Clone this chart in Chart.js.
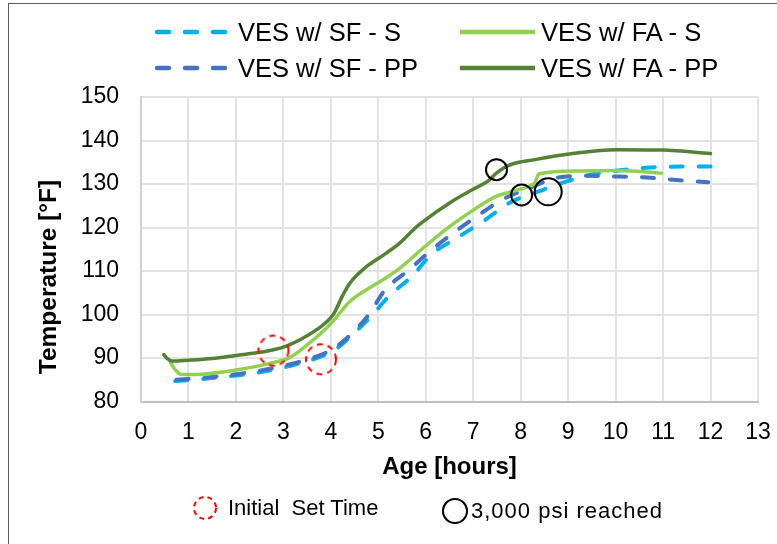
<!DOCTYPE html>
<html><head><meta charset="utf-8">
<script src="https://cdn.jsdelivr.net/npm/chart.js@4/dist/chart.umd.min.js"></script>
<style>
html,body{margin:0;padding:0;background:#fff;}
#wrap{position:relative;width:777px;height:544px;overflow:hidden;font-family:"Liberation Sans",Arial,sans-serif;background:#fff;}
#frame{position:absolute;left:8px;top:3px;width:900px;height:700px;border-left:1.5px solid #595959;border-top:1.5px solid #595959;}
#c{position:absolute;left:0;top:0;}
.lg{position:absolute;font-size:25.5px;color:#000;white-space:pre;line-height:26px;}
.ytitle{position:absolute;left:48px;top:277px;transform:translate(-50%,-50%) rotate(-90deg);font-weight:bold;font-size:24.5px;white-space:pre;color:#000;}
svg{position:absolute;left:0;top:0;}
</style></head>
<body>
<div id="wrap">
<div id="frame"></div>
<canvas id="c" width="777" height="544"></canvas>
<div class="ytitle">Temperature [°F]</div>
<svg width="777" height="544" id="lsvg"></svg>
<div id="legend"></div>
</div>
<script>
// ---- data ----
const seriesNames = ["VES w/ SF - S", "VES w/ SF - PP", "VES w/ FA - S", "VES w/ FA - PP"];
const sfS_hours = [0.72,1.0,1.5,2.1,2.7,3.25,3.85,4.1,4.4,4.85,5.23,5.72,6.1,6.7,7.26,7.75,8.38,8.94,9.5,10.13,10.73,11.36,12.0];
const sfS_temp  = [84.7,84.9,85.4,86.1,87.1,88.5,90.6,92.0,94.8,99.6,104.3,108.9,113.6,117.9,121.8,125.6,128.3,130.5,132.2,133.2,133.8,134.0,134.0];
const sfPP_hours = [0.75,1.0,1.55,2.1,2.75,3.3,3.87,4.1,4.4,4.82,5.13,5.65,6.14,6.63,7.12,7.61,8.17,8.8,9.43,10.06,10.66,11.29,11.95];
const sfPP_temp  = [85.0,85.2,85.7,86.4,87.6,89.0,91.1,92.5,95.2,100.3,105.5,110.3,115.0,119.1,122.9,126.4,129.0,131.5,131.9,131.7,131.5,130.9,130.4];
const faS_hours = [0.62,0.72,0.85,1.4,2.1,2.8,3.1,3.5,3.9,4.05,4.4,4.75,5.1,5.45,6.0,6.5,7.0,7.47,7.82,8.2,8.3,8.38,9.2,10.0,10.97];
const faS_temp  = [89.0,87.3,86.2,86.4,87.4,89.0,89.9,93.0,96.8,98.5,103.0,105.7,108.0,110.6,115.8,120.2,124.0,127.1,128.3,129.6,130.3,132.3,133.0,133.1,132.5];
const faPP_hours = [0.48,0.55,0.65,1.0,1.5,2.0,2.5,3.0,3.35,3.7,4.05,4.25,4.4,4.75,5.1,5.45,5.75,5.9,6.55,7.0,7.3,7.5,7.75,8.3,9.1,10.0,11.0,12.0];
const faPP_temp  = [90.8,89.9,89.3,89.5,89.9,90.6,91.3,92.5,94.2,96.5,100.0,104.4,107.2,111.0,113.6,116.4,119.6,121.0,126.0,128.8,130.6,132.6,134.3,135.6,137.0,137.9,137.8,137.0];
const markerNames = ["Initial  Set Time", "3,000 psi reached"];
const setTime_hours = [2.79, 3.79];
const setTime_temp  = [91.7, 89.7];
const psi_hours = [7.49, 8.02, 8.58];
const psi_temp  = [133.3, 127.5, 128.2];
const xTicks = [0,1,2,3,4,5,6,7,8,9,10,11,12,13];
const yTicks = [80,90,100,110,120,130,140,150];
const xTitle = "Age [hours]";

// ---- styles ----
const colors = ["#00B0F0", "#4472C4", "#92D050", "#548235"];
const dashes = [[12,16],[12,16],[],[]];
const FONT = "'Liberation Sans', Arial, sans-serif";

function pts(h, t){ return h.map((v,i)=>({x:v, y:t[i]})); }
function dashedCircle(r, color){
  const c = document.createElement('canvas');
  const s = Math.ceil(2*r + 6);
  c.width = s; c.height = s;
  const g = c.getContext('2d');
  g.strokeStyle = color; g.lineWidth = 2; g.setLineDash([6,5]);
  g.beginPath(); g.arc(s/2, s/2, r, 0, Math.PI*2); g.stroke();
  return c;
}
const redCircle = dashedCircle(15, "#FF0000");

const lineData = [pts(sfS_hours,sfS_temp), pts(sfPP_hours,sfPP_temp), pts(faS_hours,faS_temp), pts(faPP_hours,faPP_temp)];
const datasets = lineData.map((d,i)=>({
  label: seriesNames[i], data: d, showLine: true, borderColor: colors[i], backgroundColor: colors[i],
  borderWidth: i<2 ? 4 : 3.5, borderDash: dashes[i], borderCapStyle: 'round', borderJoinStyle:'round',
  pointRadius: 0, cubicInterpolationMode: 'monotone', order: 4 - i
}));
datasets.push({label: markerNames[0], data: pts(setTime_hours,setTime_temp), showLine:false,
  pointStyle: redCircle, pointRadius: 15, order: 0});
datasets.push({label: markerNames[1], data: pts(psi_hours,psi_temp), showLine:false,
  pointStyle: 'circle', pointRadius: [10.5,10.5,13.5], pointBorderColor:'#000', pointBackgroundColor:'rgba(0,0,0,0)',
  pointBorderWidth: 2, order: 0});

const gridColor = '#e3e3e3';
new Chart(document.getElementById('c'), {
  type: 'scatter',
  data: { datasets },
  options: {
    responsive: false, animation: false, devicePixelRatio: 1,
    layout: { padding: { top: 97, right: 19, left: 0, bottom: 0 } },
    plugins: { legend: { display: false }, tooltip: { enabled: false } },
    scales: {
      x: {
        type: 'linear', min: 0, max: 13,
        afterBuildTicks: s => { s.ticks = xTicks.map(v=>({value:v})); },
        ticks: { color: '#000', font: { family: FONT, size: 23 }, padding: 17, maxRotation: 0, autoSkip: false },
        grid: { color: gridColor, lineWidth: 2, drawTicks: false },
        border: { color: '#bfbfbf', width: 2 },
        title: { display: true, text: xTitle, color: '#000', font: { family: FONT, size: 24, weight: 'bold' }, padding: { top: 0, bottom: 62 } },
        afterFit: s => { s.height = 142.5; s.paddingLeft = 0; s.paddingRight = 0; }
      },
      y: {
        type: 'linear', min: 80, max: 150,
        afterBuildTicks: s => { s.ticks = yTicks.map(v=>({value:v})); },
        ticks: { color: '#000', font: { family: FONT, size: 23 }, padding: 22 },
        grid: { color: gridColor, lineWidth: 2, drawTicks: false },
        border: { color: '#d0d0d0', width: 2 },
        afterFit: s => { s.width = 141; s.paddingTop = 0; s.paddingBottom = 0; }
      }
    }
  }
});

// ---- legends (HTML/SVG) ----
const svg = document.getElementById('lsvg');
const NS = 'http://www.w3.org/2000/svg';
function line(x1,y,x2,color,dash,w){
  const l = document.createElementNS(NS,'line');
  l.setAttribute('x1',x1); l.setAttribute('x2',x2); l.setAttribute('y1',y); l.setAttribute('y2',y);
  l.setAttribute('stroke',color); l.setAttribute('stroke-width',w);
  if (dash.length) { l.setAttribute('stroke-dasharray',dash.join(' ')); l.setAttribute('stroke-linecap','round'); }
  svg.appendChild(l);
}
function circ(cx,cy,r,color,dash){
  const c = document.createElementNS(NS,'circle');
  c.setAttribute('cx',cx); c.setAttribute('cy',cy); c.setAttribute('r',r);
  c.setAttribute('fill','none'); c.setAttribute('stroke',color); c.setAttribute('stroke-width',2);
  if (dash) c.setAttribute('stroke-dasharray',dash);
  svg.appendChild(c);
}
function text(x,y,t,size,ls){
  const d = document.createElement('div'); d.className='lg'; d.textContent=t;
  d.style.left = x+'px'; d.style.top = (y - 13)+'px';
  if (size) d.style.fontSize = size+'px';
  if (ls) d.style.letterSpacing = ls+'px';
  document.getElementById('legend').appendChild(d);
}
const legPos = [[157,32],[157,68],[460,32],[460,68]];
legPos.forEach((p,i)=>{
  line(p[0], p[1], p[0]+75, colors[i], dashes[i].length ? [12,16] : [], 4.5);
  text(p[0]+81, p[1], seriesNames[i]);
});
circ(205, 508, 11, '#FF0000', '5 4');
text(228, 508, markerNames[0], 22);
circ(455, 511, 12, '#000', null);
text(471, 511, markerNames[1], 22, 1);
</script>
</body></html>
